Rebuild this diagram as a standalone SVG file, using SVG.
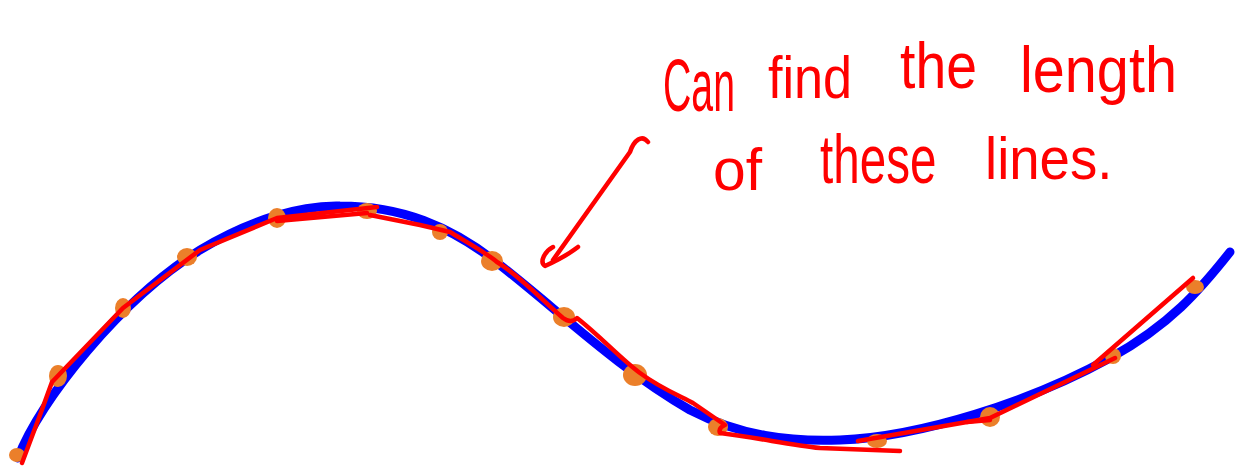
<svg xmlns="http://www.w3.org/2000/svg" width="1238" height="469" viewBox="0 0 1238 469">
<style>
.blue{fill:none;stroke:#0000FF;stroke-width:9;stroke-linecap:round;stroke-linejoin:round}
.red{fill:none;stroke:#FF0000;stroke-width:4.5;stroke-linecap:round;stroke-linejoin:round}
.dot{fill:#EB7F2A}
.hand{fill:#FF0000;font-family:"Liberation Sans","DejaVu Sans",sans-serif;font-size:60px}
</style>
<rect width="1238" height="469" fill="#FFFFFF"/>
<g id="curve">
<path class="blue" d="M18,458 C40,400 120,300 200,250 C250,220 300,205 340,206 C400,206 450,225 500,265 C560,312 620,370 690,410 C740,436 790,442 840,440 C920,437 1030,402 1110,358 C1170,325 1200,290 1230,252"/>
</g>
<g id="points">
<ellipse class="dot" cx="17" cy="455" rx="8" ry="7"/>
<ellipse class="dot" cx="58" cy="376" rx="9" ry="11"/>
<ellipse class="dot" cx="123" cy="308" rx="8" ry="10"/>
<ellipse class="dot" cx="187" cy="257" rx="10" ry="9"/>
<ellipse class="dot" cx="277" cy="218" rx="9" ry="10"/>
<ellipse class="dot" cx="367" cy="211" rx="10" ry="8"/>
<ellipse class="dot" cx="440" cy="232" rx="8" ry="8"/>
<ellipse class="dot" cx="492" cy="261" rx="11" ry="10"/>
<ellipse class="dot" cx="564" cy="317" rx="11" ry="10"/>
<ellipse class="dot" cx="635" cy="375" rx="12" ry="11"/>
<ellipse class="dot" cx="718" cy="427" rx="10" ry="9"/>
<ellipse class="dot" cx="877" cy="441" rx="10" ry="7"/>
<ellipse class="dot" cx="990" cy="417" rx="10" ry="10"/>
<ellipse class="dot" cx="1113" cy="356" rx="8" ry="8"/>
<ellipse class="dot" cx="1195" cy="287" rx="9" ry="7"/>
</g>
<g id="approx-lines">
<path class="red" d="M22,463 L40,415 L52,382 L123,308 L200,250 L277,218 L377,207"/>
<path class="red" d="M277,221 L367,213"/>
<path class="red" d="M370,215 L420,225 L450,232 C470,244 488,254 497,262 C520,276 542,300 563,318 Q571,324 577,318 C600,336 622,360 640,373 C660,388 680,396 693,403 L725,425 Q718,428 720,433 C760,438 790,445 820,448 L900,451"/>
<path class="red" d="M858,441 L967,422 L990,418 L1115,358"/>
<path class="red" d="M967,422 L990,420"/>
<path class="red" d="M1093,365 L1193,278"/>
</g>
<g id="arrow">
<path class="red" d="M648,142 C642,134 634,140 630,152 L553,260"/>
<path class="red" d="M553,247 C545,251 539,262 545,266 C556,261 569,254 578,247"/>
</g>
<g id="label">
<text class="hand" transform="translate(663,111) scale(0.53,1)" style="font-size:74px">Can</text>
<text class="hand" transform="translate(768,98) scale(0.87,1)">find</text>
<text class="hand" transform="translate(900,88) scale(0.865,1)" style="font-size:64px">the</text>
<text class="hand" transform="translate(1020,92) scale(0.9,1)" style="font-size:64px">length</text>
<text class="hand" transform="translate(713,190) scale(0.98,1)">of</text>
<text class="hand" transform="translate(820,183) scale(0.7,1)" style="font-size:68px">these</text>
<text class="hand" transform="translate(985,179) scale(0.91,1)">lines.</text>
</g>
</svg>
